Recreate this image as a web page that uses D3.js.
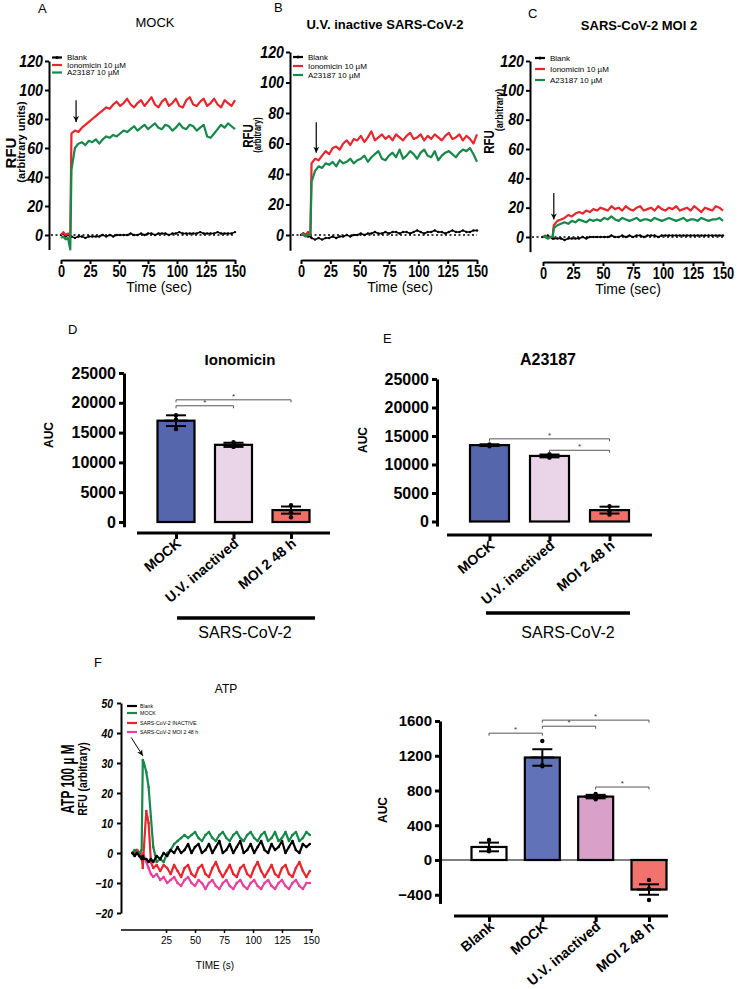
<!DOCTYPE html>
<html><head><meta charset="utf-8">
<script src="https://cdn.jsdelivr.net/npm/d3@7"></script>
<style>body{margin:0;background:#fff}svg{display:block}</style>
</head><body><svg id="chart" width="739" height="989"></svg>
<script>
// ---------------- DATA ----------------
const timeSec = [0,2,4,6,8,9,12,15,18,21,24,27,30,33,36,39,42,45,48,51,54,57,60,63,66,69,72,75,78,81,84,87,90,93,96,99,102,105,108,111,114,117,120,123,126,129,132,135,138,141,144,147,150];
const timeTicks = [0,25,50,75,100,125,150];
const rfuTicks = [0,20,40,60,80,100,120];
const traceLegend = ["Blank","Ionomicin 10 \u00b5M","A23187 10 \u00b5M"];

const mockBlank = [0,1,-1,0,-1, -1,-2,-1,-1,-2,-1,-1,-1,-1,0, -1,0,-1,0,0,0,0,1,0,0, 1,0,1,1,0,1,1,1,0,1, 1,2,1,1,1,1,1,2,1,1, 1,1,2,1,1,1,1,2];
const mockIono  = [0,2,0,1,0, 70,72,71,74,76,78,80,82,84,86, 88,87,90,92,89,91,94,90,88,91, 93,89,92,95,90,88,92,94,89,91, 94,89,88,93,95,90,89,92,94,89, 91,94,90,88,93,91,89,93];
const mockA23   = [-2,-1,-3,-2,-10, 45,60,63,64,62,65,64,66,63,66, 68,67,69,68,70,72,71,73,75,72, 74,76,73,75,77,74,73,76,75,72, 74,77,74,73,76,75,72,74,76,68, 67,70,73,76,74,77,75,73];

const uvBlank = [0,1,0,-1,-1, -2,-3,-2,-3,-2,-2,-1,-2,-1,-1, 0,-1,0,0,1,0,1,1,2,1, 1,2,1,2,2,1,2,2,1,2, 3,2,1,2,2,3,2,2,1,2, 3,2,2,3,2,2,3,3];
const uvIono  = [0,1,0,2,0, 47,50,49,52,55,53,57,58,56,60, 62,59,63,62,65,61,64,68,62,64, 66,63,65,62,66,64,62,65,67,63, 64,66,62,65,63,66,64,62,65,67, 63,64,66,62,65,63,60,66];
const uvA23   = [0,0,-1,0,0, 35,42,45,44,47,46,48,45,49,47, 48,50,47,49,50,52,48,51,53,55, 50,49,52,54,51,56,50,52,55,53, 50,54,56,52,51,55,49,52,54,55, 53,51,54,56,55,57,53,48];

const moiBlank = [0,0,1,0,-1, -1,-1,-1,-2,-1,-1,-1,-1,0,-1, 0,0,0,0,0,0,1,0,0,1, 0,1,0,1,1,0,1,1,1,0, 1,1,1,1,1,1,1,1,1,1, 1,1,1,1,1,1,1,1];
const moiIono  = [0,1,-1,0,0, 8,11,12,13,15,14,16,17,16,18, 17,19,18,20,19,18,21,19,20,18, 21,19,18,20,21,18,19,20,18,21, 19,18,20,19,21,18,19,20,18,21, 19,17,20,19,18,21,20,18];
const moiA23   = [0,0,-1,0,0, 6,8,9,10,9,11,10,12,11,10, 12,11,12,11,13,12,14,12,11,13, 12,11,12,13,11,12,12,11,13,12, 11,12,13,12,11,12,13,11,12,12, 11,13,12,11,12,12,13,11];

// arrows: [time, fromValue, toValue]
const mockArrow = [13, 93, 78];
const uvArrow   = [13, 74, 54];
const moiArrow  = [9, 30, 12];

// ATP traces (panel F left)
const atpTime = [-4,-2,0,2,4,5,6,8,10,12,14,17,20,23,26,29,32,35,38,41,44,47,50,53,56,59,62,65,68,71,74,77,80,83,86,89,92,95,98,101,104,107,110,113,116,119,122,125,128,131,134,137,140,143,146,149];
const atpTimeTicks = [25,50,75,100,125,150];
const atpTicks = [-20,-10,0,10,20,30,40,50];
const atpLegend = ["Blank","MOCK","SARS-CoV-2 INACTIVE","SARS-CoV-2 MOI 2 48 h"];
const atpBlank    = [0,-1,0,-1,-2,-1,-2,-2,-3,-2,-3, -1,-2,0,-1,1,0,2,0,1,3, 0,2,3,0,1,3,0,2,4,0, 1,3,0,2,4,0,1,3,0,2, 4,1,0,3,1,2,4,0,2,4, 1,0,3,2,3];
const atpMock     = [0,1,0,0,1,31,30,27,22,12,2, -3,-2,-3,0,1,3,4,5,6,5, 6,7,5,4,6,7,5,4,6,7, 5,4,6,7,5,4,6,7,5,4, 6,7,4,5,7,4,5,7,4,6, 7,4,5,7,6];
const atpInactive = [0,0,1,0,-1,-5,2,14,10,-3,-5, -4,-6,-4,-5,-7,-4,-6,-8,-5,-4, -7,-8,-5,-4,-7,-8,-5,-3,-6,-8, -6,-4,-7,-8,-5,-4,-7,-8,-5,-3, -6,-8,-6,-4,-7,-8,-5,-4,-7,-8, -5,-3,-6,-8,-6];
const atpMoi      = [0,0,1,0,0,0,-1,-3,-5,-7,-8, -7,-9,-8,-10,-9,-8,-10,-11,-9,-8, -10,-11,-9,-10,-12,-10,-9,-11,-12,-10, -9,-11,-12,-10,-9,-11,-12,-10,-9,-11, -12,-10,-9,-11,-12,-10,-9,-11,-12,-10, -9,-11,-12,-10,-10];
const atpArrow = [-5, 38.5, 32.4, 5];

// Bar charts
const aucCats = ["MOCK","U.V. inactived","MOI 2 48 h"];
const aucTicks = [0,5000,10000,15000,20000,25000];
const ionoMeans = [17000, 12950, 2000];
const ionoSem = [900, 350, 600];
const ionoPoints = [[17900,17200,15600],[13400,12800,12600],[2800,1600,800]];
const ionoBrackets = [[0,2,20500],[0,1,19500]];

const a23Means = [13400, 11500, 2000];
const a23Sem = [150, 250, 600];
const a23Points = [[13500,13350,13200],[11800,11450,11200],[2700,1800,1200]];
const a23Brackets = [[0,2,14500],[1,2,12500]];

const atpCats = ["Blank","MOCK","U.V. inactived","MOI 2 48 h"];
const atpAucTicks = [-400,0,400,800,1200,1600];
const atpMeans = [150, 1180, 730, -340];
const atpSem = [50, 95, 20, 60];
const atpPoints = [[230,120,100],[1370,1090,1080],[760,700,720],[-230,-330,-460]];
const atpBrackets = [[0,1,1460],[1,3,1610],[1,2,1540],[2,3,840]];

// ---------------- DRAWING ----------------
const SANS = '"Liberation Sans", Arial, Helvetica, sans-serif';
const RED = "#e8262d", GREEN = "#15884a", MAG = "#e8409c";
const svg = d3.select("#chart");
svg.append("rect").attr("width",739).attr("height",989).attr("fill","#fff");
const defs = svg.append("defs");
defs.append("marker").attr("id","ah").attr("viewBox","0 0 10 10").attr("refX",10).attr("refY",5)
  .attr("markerWidth",6).attr("markerHeight",8).attr("markerUnits","userSpaceOnUse").attr("orient","auto")
  .append("path").attr("d","M0,0 L10,5 L0,10 L3,5 Z").attr("fill","#000");

function condense(sel, f) {
  sel.each(function(){
    const w = this.getComputedTextLength();
    if (w > 0) d3.select(this).attr("textLength", w*f).attr("lengthAdjust","spacingAndGlyphs");
  });
  return sel;
}
function text(g, s, x, y, o) {
  o = o || {};
  const t = g.append("text").attr("x",x).attr("y",y).text(s)
    .attr("font-family", SANS).attr("font-size", o.size || 12)
    .attr("font-weight", o.weight || "normal").attr("font-style", o.style || "normal")
    .attr("text-anchor", o.anchor || "start").attr("fill", o.fill || "#000");
  if (o.rotate !== undefined) t.attr("transform", `rotate(${o.rotate},${x},${y})`);
  if (o.squeeze) condense(t, o.squeeze);
  return t;
}
function styleAxis(sel, sw, font) {
  sel.select(".domain").attr("stroke","#000").attr("stroke-width",sw);
  sel.selectAll(".tick line").attr("stroke","#000").attr("stroke-width",sw);
  const t = sel.selectAll(".tick text").attr("font-family",SANS).attr("font-size",font.size)
    .attr("font-weight",font.weight||"bold").attr("font-style",font.style||"normal").attr("fill","#000");
  if (font.squeeze) condense(t, font.squeeze);
}

const tracePanels = [
  {letter:"A", letterPos:[38,13], title:"MOCK", titleBold:false, titlePos:[155,27],
   axisX:49, yTop:61, yZero:235, xLeft:61, xRight:235, xAxisY:260, xTitlePos:[159,292],
   ylab:[["RFU",16,153,15,1],["(arbitrary units)",25,142,11,1]],
   legX:52, legY:[57.5,65,72.5], data:[mockBlank,mockIono,mockA23], arrow:mockArrow},
  {letter:"B", letterPos:[274,12], title:"U.V. inactive SARS-CoV-2", titleBold:true, titlePos:[385,29],
   axisX:290, yTop:52, yZero:235, xLeft:301, xRight:477, xAxisY:260, xTitlePos:[400,292],
   ylab:[["RFU",253,136,14,0.82],["(arbitrary)",261,135,10,0.75]],
   legX:293, legY:[57,66,75], data:[uvBlank,uvIono,uvA23], arrow:uvArrow},
  {letter:"C", letterPos:[528,18], title:"SARS-CoV-2 MOI 2", titleBold:true, titlePos:[639,30],
   axisX:530, yTop:61, yZero:237, xLeft:543, xRight:723, xAxisY:262, xTitlePos:[628,294],
   ylab:[["RFU",494,142,14,0.82],["(arbitrary)",503,110,11,0.82]],
   legX:535, legY:[58,69,80], data:[moiBlank,moiIono,moiA23], arrow:moiArrow}
];

tracePanels.forEach(p => {
  const g = svg.append("g");
  const x = d3.scaleLinear().domain([0,150]).range([p.xLeft, p.xRight]);
  const y0 = d3.scaleLinear().domain([0,120]).range([p.yZero, p.yTop]);
  const y = d3.scaleLinear().domain([-10,120]).range([y0(-10), y0(120)]);
  text(g, p.letter, p.letterPos[0], p.letterPos[1], {size:13});
  text(g, p.title, p.titlePos[0], p.titlePos[1], {size:13, weight:p.titleBold?"bold":"normal", anchor:"middle"});
  const ya = g.append("g").attr("transform",`translate(${p.axisX},0)`)
    .call(d3.axisLeft(y).tickValues(rfuTicks).tickSize(4).tickSizeOuter(0).tickPadding(2));
  styleAxis(ya, 2, {size:16.5, weight:"bold", style:"italic", squeeze:0.86});
  const xa = g.append("g").attr("transform",`translate(0,${p.xAxisY})`)
    .call(d3.axisBottom(x).tickValues(timeTicks).tickSize(4).tickSizeOuter(0).tickPadding(2));
  styleAxis(xa, 2, {size:16, weight:"bold", squeeze:0.8});
  text(g, "Time (sec)", p.xTitlePos[0], p.xTitlePos[1], {size:14, anchor:"middle"});
  p.ylab.forEach(l => text(g, l[0], l[1], l[2], {size:l[3], weight:"bold", anchor:"middle", rotate:-90, squeeze:l[4]}));
  g.append("line").attr("x1",p.axisX+2).attr("x2",x(150)).attr("y1",y(0)).attr("y2",y(0))
    .attr("stroke","#000").attr("stroke-width",1.6).attr("stroke-dasharray","2,2.5");
  const line = d3.line().x((d,i)=>x(timeSec[i])).y(d=>y(d));
  const cols = ["#000", RED, GREEN];
  p.data.forEach((vals,k) => {
    g.append("path").datum(vals).attr("d",line).attr("fill","none").attr("stroke",cols[k])
      .attr("stroke-width",k===0?1.5:2.2).attr("stroke-linejoin","round");
    if (k===0) g.selectAll(null).data(vals).enter().append("circle")
      .attr("cx",(d,i)=>x(timeSec[i])).attr("cy",d=>y(d)).attr("r",1.2).attr("fill","#000");
  });
  traceLegend.forEach((s,k) => {
    const yy = p.legY[k];
    g.append("line").attr("x1",p.legX).attr("x2",p.legX+10).attr("y1",yy).attr("y2",yy)
      .attr("stroke",cols[k]).attr("stroke-width",2.2);
    if (k===0) g.append("circle").attr("cx",p.legX+5).attr("cy",yy).attr("r",1.5).attr("fill","#000");
    text(g, s, p.legX+15, yy+2.8, {size:8});
  });
  g.append("line").attr("x1",x(p.arrow[0])).attr("x2",x(p.arrow[0]))
    .attr("y1",y(p.arrow[1])).attr("y2",y(p.arrow[2])).attr("stroke","#000").attr("stroke-width",1.2)
    .attr("marker-end","url(#ah)");
});

// ---- Panel F left ----
(function(){
  const g = svg.append("g");
  const x = d3.scaleLinear().domain([0,150]).range([137,311]);
  const y = d3.scaleLinear().domain([-20,50]).range([913,703]);
  text(g, "F", 94, 667, {size:13});
  text(g, "ATP", 226, 693, {size:12, anchor:"middle"});
  const ya = g.append("g").attr("transform","translate(121,0)")
    .call(d3.axisLeft(y).tickValues(atpTicks).tickSize(4).tickSizeOuter(0).tickPadding(4));
  styleAxis(ya, 2, {size:13, weight:"bold", style:"italic", squeeze:0.8});
  const xa = g.append("g").attr("transform","translate(0,930)")
    .call(d3.axisBottom(x).tickValues(atpTimeTicks).tickSize(3).tickSizeOuter(0).tickPadding(4));
  xa.select(".domain").attr("d","M121,0H313");
  styleAxis(xa, 1.5, {size:10, weight:"normal"});
  text(g, "TIME (s)", 215, 969, {size:10, anchor:"middle"});
  text(g, "ATP 100  \u00b5 M", 74, 779, {size:18, weight:"bold", anchor:"middle", rotate:-90, squeeze:0.66});
  text(g, "RFU (arbitrary)", 87, 779, {size:13, weight:"bold", anchor:"middle", rotate:-90, squeeze:0.8});
  const line = d3.line().x((d,i)=>x(atpTime[i])).y(d=>y(d));
  const order = [[atpMoi,MAG],[atpInactive,RED],[atpMock,GREEN],[atpBlank,"#000"]];
  order.forEach(([vals,c]) => {
    g.append("path").datum(vals).attr("d",line).attr("fill","none").attr("stroke",c)
      .attr("stroke-width",2.2).attr("stroke-linejoin","round");
    g.selectAll(null).data(vals).enter().append("circle")
      .attr("cx",(d,i)=>x(atpTime[i])).attr("cy",d=>y(d)).attr("r",1.3).attr("fill",c);
  });
  const lc = ["#000",GREEN,RED,MAG], ly = [706,713,723,732];
  atpLegend.forEach((s,k) => {
    g.append("line").attr("x1",127).attr("x2",137).attr("y1",ly[k]).attr("y2",ly[k]).attr("stroke",lc[k]).attr("stroke-width",2.2);
    text(g, s, 140, ly[k]+2.2, {size:6.2, squeeze:0.85});
  });
  g.append("line").attr("x1",x(atpArrow[0])).attr("y1",y(atpArrow[1])).attr("x2",x(atpArrow[3])).attr("y2",y(atpArrow[2]))
    .attr("stroke","#000").attr("stroke-width",1).attr("marker-end","url(#ah)");
})();

// ---- Bar panels ----
const barPanels = [
  {letter:"D", letterPos:[68,334], title:"Ionomicin", titlePos:[240,365], titleSize:15,
   cats:aucCats, means:ionoMeans, sem:ionoSem, points:ionoPoints, brackets:ionoBrackets,
   colors:["#5566ad","#ead5e8","#f07068"], ticks:aucTicks, yMin:-800, yMax:25000,
   y0:522, yTopPx:373, axisX:124, centers:[176,291], barW:37, xAxisY:533, xExt:[137,330],
   ylab:[53,435], group:{x1:177,x2:315,y:618,tx:245,ty:638}, tickFont:16},
  {letter:"E", letterPos:[383,343], title:"A23187", titlePos:[548,365], titleSize:16,
   cats:aucCats, means:a23Means, sem:a23Sem, points:a23Points, brackets:a23Brackets,
   colors:["#5566ad","#ead5e8","#f07068"], ticks:aucTicks, yMin:-800, yMax:25000,
   y0:521.5, yTopPx:379, axisX:437, centers:[489.5,609.5], barW:39, xAxisY:535, xExt:[447,652],
   ylab:[367,440], group:{x1:486,x2:630,y:613,tx:568,ty:638}, tickFont:16},
  {letter:null, cats:atpCats, means:atpMeans, sem:atpSem, points:atpPoints, brackets:atpBrackets,
   colors:["#ffffff","#6272b8","#d9a0c9","#f2726e"], ticks:atpAucTicks, yMin:-500, yMax:1600,
   y0:860, yTopPx:721, axisX:440, centers:[489,649], barW:35, xAxisY:916, xExt:[454,668],
   ylab:[387,810], group:null, zeroLine:true, tickFont:15}
];

barPanels.forEach(p => {
  const g = svg.append("g");
  const yb = d3.scaleLinear().domain([0,p.yMax]).range([p.y0,p.yTopPx]);
  const y = d3.scaleLinear().domain([p.yMin,p.yMax]).range([yb(p.yMin), yb(p.yMax)]);
  const x = d3.scalePoint().domain(p.cats).range(p.centers);
  if (p.letter) text(g, p.letter, p.letterPos[0], p.letterPos[1], {size:13});
  if (p.title) text(g, p.title, p.titlePos[0], p.titlePos[1], {size:p.titleSize, weight:"bold", anchor:"middle"});
  const ya = g.append("g").attr("transform",`translate(${p.axisX},0)`)
    .call(d3.axisLeft(y).tickValues(p.ticks).tickFormat(d3.format("d")).tickSize(5).tickSizeOuter(0).tickPadding(3));
  styleAxis(ya, 3, {size:p.tickFont, weight:"bold"});
  text(g, "AUC", p.ylab[0], p.ylab[1], {size:12, weight:"bold", anchor:"middle", rotate:-90});
  if (p.zeroLine) g.append("line").attr("x1",p.axisX).attr("x2",p.xExt[1]).attr("y1",y(0)).attr("y2",y(0))
      .attr("stroke","#000").attr("stroke-width",1.2);
  const xa = g.append("g").attr("transform",`translate(0,${p.xAxisY})`)
    .call(d3.axisBottom(x).tickSize(6).tickSizeOuter(0).tickFormat(""));
  xa.select(".domain").attr("d",`M${p.xExt[0]},0H${p.xExt[1]}`);
  styleAxis(xa, 3, {size:14});
  p.cats.forEach(c => text(g, c, x(c)+6, p.xAxisY+12, {size:14, weight:"bold", anchor:"end", rotate:-40}));
  p.cats.forEach((c,i) => {
    const v = p.means[i];
    g.append("rect").attr("x",x(c)-p.barW/2).attr("width",p.barW)
      .attr("y",Math.min(y(0),y(v))).attr("height",Math.abs(y(0)-y(v)))
      .attr("fill",p.colors[i]).attr("stroke","#000").attr("stroke-width",2.2);
  });
  p.cats.forEach((c,i) => {
    const cx = x(c), m = p.means[i], s = p.sem[i];
    g.append("line").attr("x1",cx).attr("x2",cx).attr("y1",y(m-s)).attr("y2",y(m+s)).attr("stroke","#000").attr("stroke-width",2);
    [m-s, m+s].forEach(v => g.append("line").attr("x1",cx-10).attr("x2",cx+10).attr("y1",y(v)).attr("y2",y(v)).attr("stroke","#000").attr("stroke-width",2));
    g.append("line").attr("x1",cx-12).attr("x2",cx+12).attr("y1",y(m)).attr("y2",y(m)).attr("stroke","#000").attr("stroke-width",2);
    p.points[i].forEach(v => g.append("circle").attr("cx",cx).attr("cy",y(v)).attr("r",2.2).attr("fill","#000"));
  });
  p.brackets.forEach(([a,b,v]) => {
    const x1 = x(p.cats[a]), x2 = x(p.cats[b]), yy = y(v);
    g.append("path").attr("d",`M${x1},${yy+2.5}V${yy}H${x2}V${yy+2.5}`).attr("fill","none").attr("stroke","#555").attr("stroke-width",1);
    text(g, "*", (x1+x2)/2, yy-1, {size:8, anchor:"middle", fill:"#333"});
  });
  if (p.group) {
    g.append("line").attr("x1",p.group.x1).attr("x2",p.group.x2).attr("y1",p.group.y).attr("y2",p.group.y)
      .attr("stroke","#000").attr("stroke-width",3.5);
    text(g, "SARS-CoV-2", p.group.tx, p.group.ty, {size:16, anchor:"middle"});
  }
});
</script>
</body></html>
